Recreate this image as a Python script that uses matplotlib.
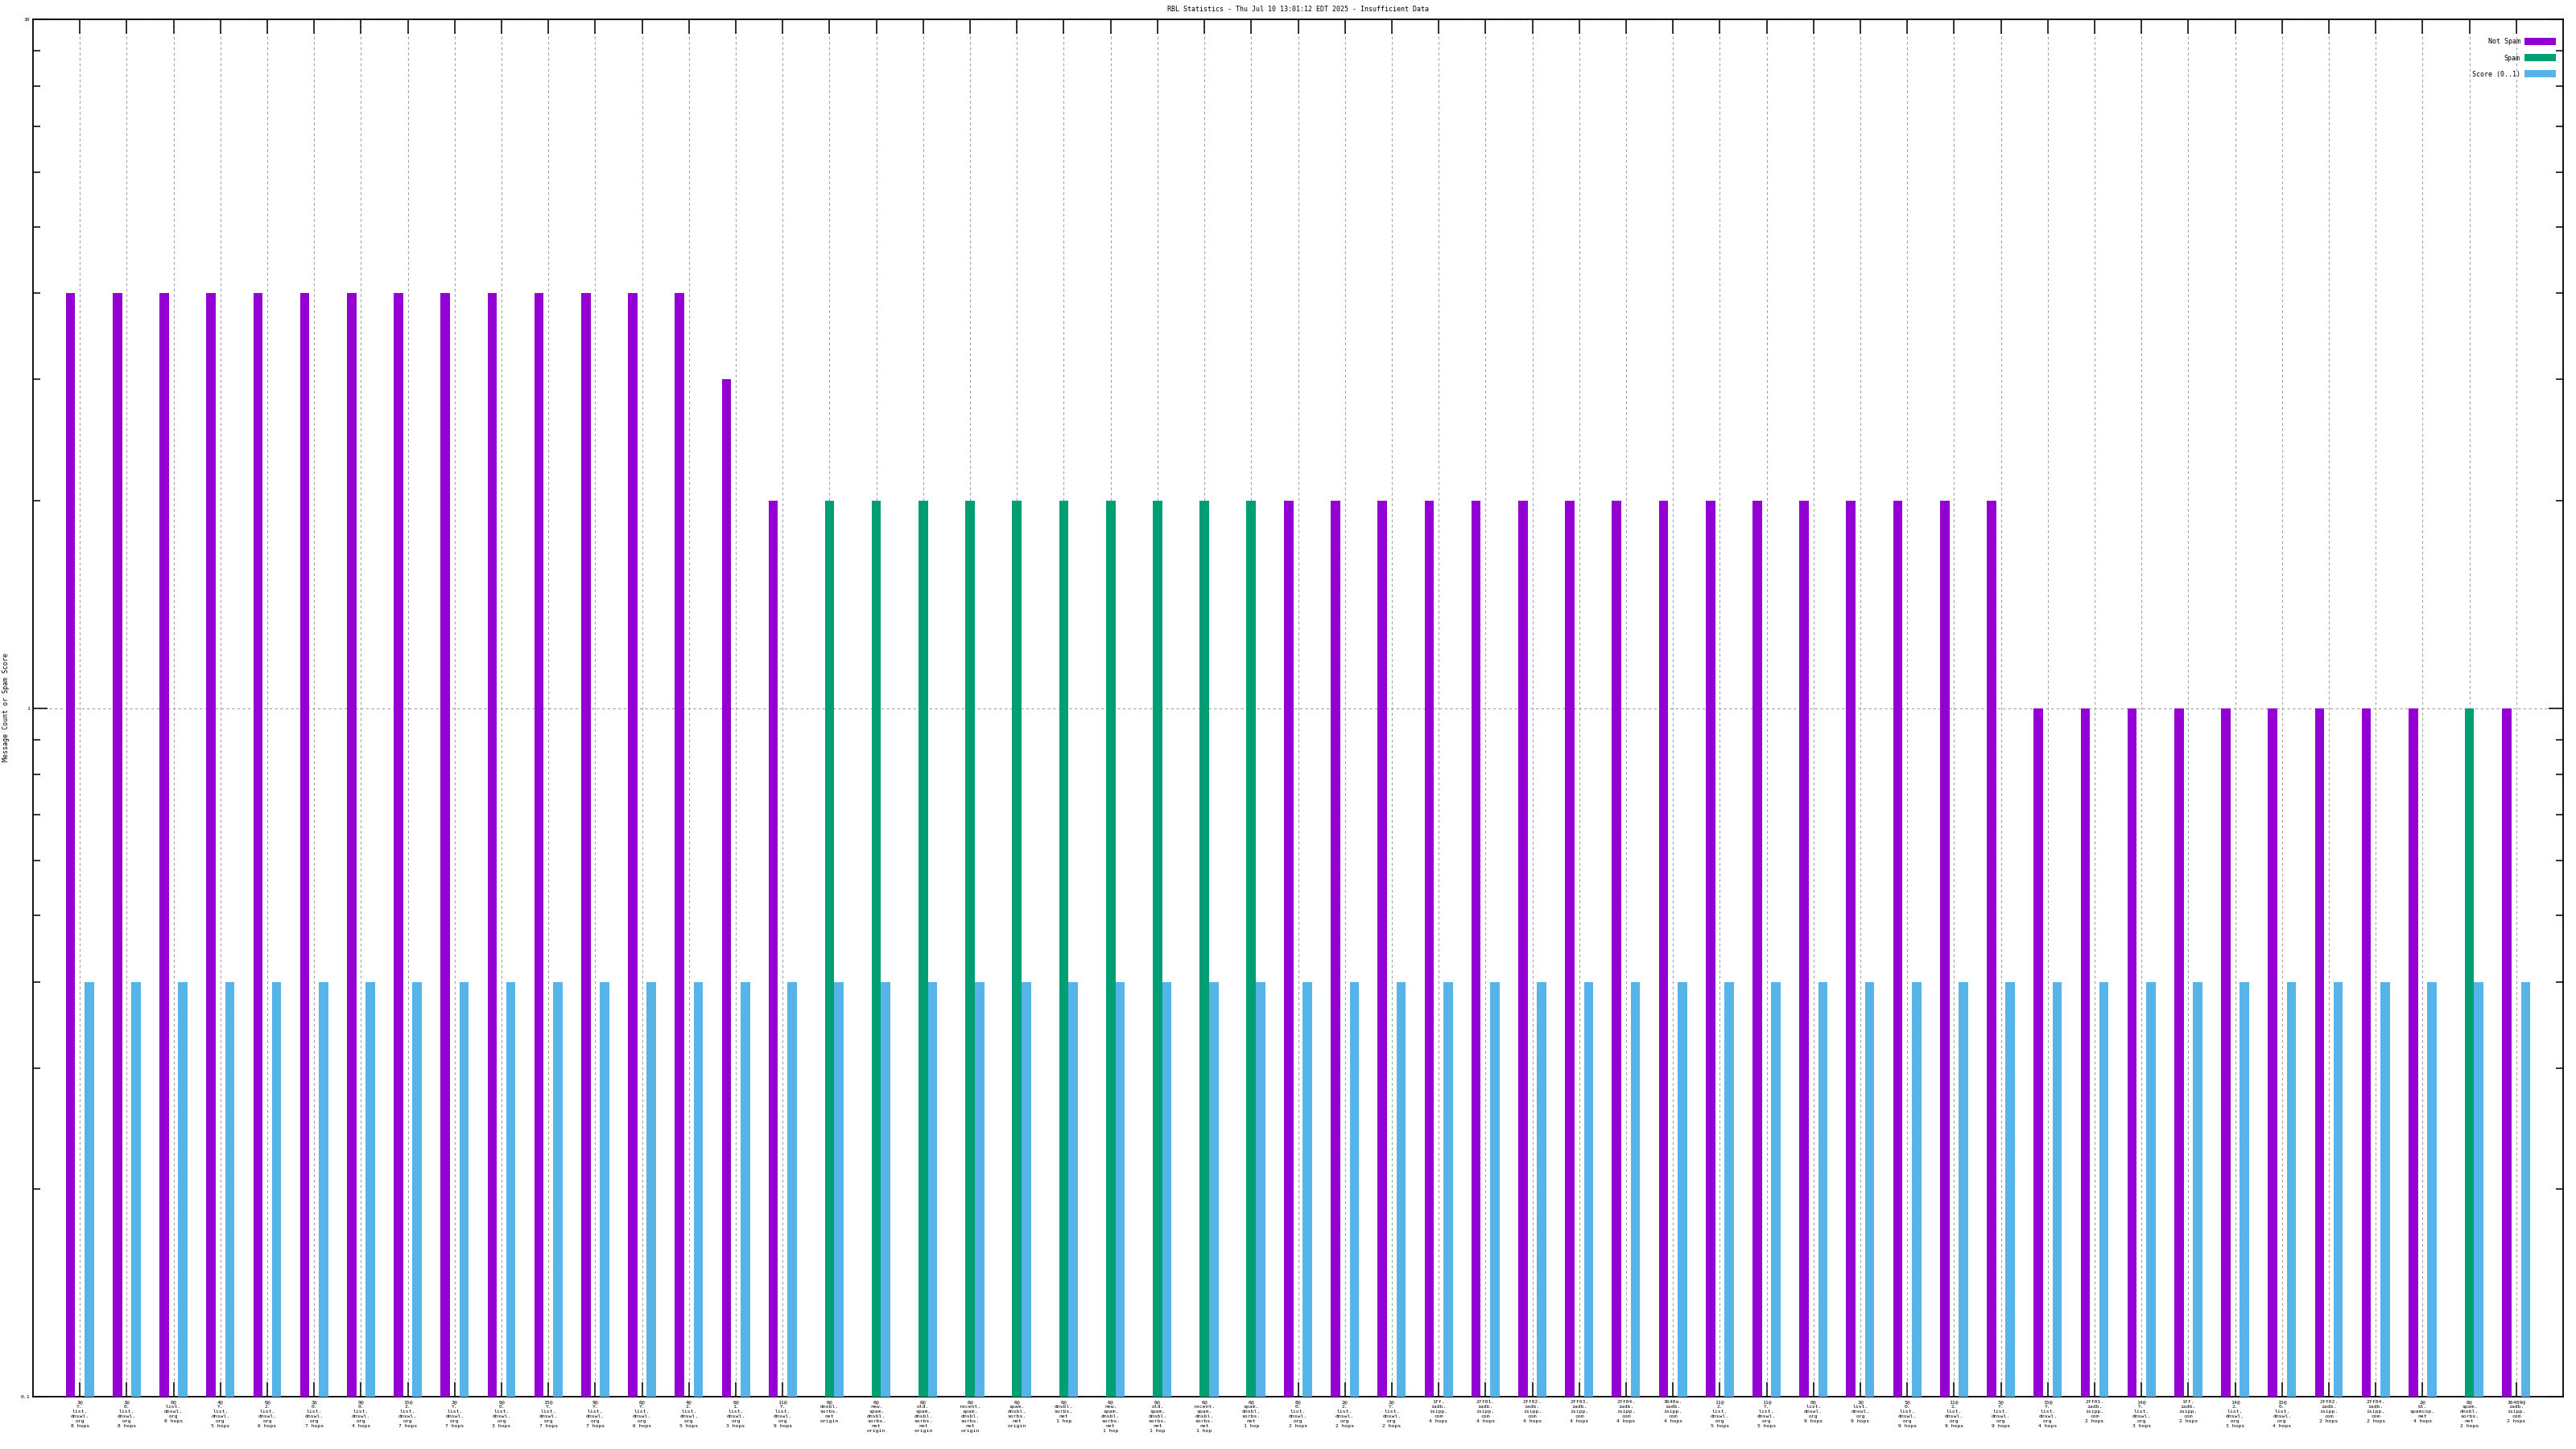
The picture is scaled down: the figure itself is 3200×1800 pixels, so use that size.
import numpy as np
import matplotlib
matplotlib.use("Agg")
import matplotlib.pyplot as plt
from matplotlib.ticker import FixedLocator, FixedFormatter, LogLocator, NullFormatter

# tick labels (one per cluster)
dnswl = "list.\ndnswl.\norg"
labels = [
    "3@\nY.\n" + dnswl + "\n8 hops",
    "3@\n0.\n" + dnswl + "\n8 hops",
    "0@\n" + dnswl + "\n8 hops",
    "4@\nY.\n" + dnswl + "\n5 hops",
    "6@\n2.\n" + dnswl + "\n6 hops",
    "3@\n0.\n" + dnswl + "\n7 hops",
    "9@\n0.\n" + dnswl + "\n4 hops",
    "15@\n2.\n" + dnswl + "\n7 hops",
    "3@\nY.\n" + dnswl + "\n7 hops",
    "6@\n0.\n" + dnswl + "\n3 hops",
    "15@\nY.\n" + dnswl + "\n7 hops",
    "9@\nY.\n" + dnswl + "\n7 hops",
    "6@\nY.\n" + dnswl + "\n6 hops",
    "4@\n2.\n" + dnswl + "\n5 hops",
    "6@\n1.\n" + dnswl + "\n3 hops",
    "11@\nY.\n" + dnswl + "\n9 hops",
    "6@\ndnsbl.\nsorbs.\nnet\norigin",
    "6@\nnew.\nspam.\ndnsbl.\nsorbs.\nnet\norigin",
    "6@\nold.\nspam.\ndnsbl.\nsorbs.\nnet\norigin",
    "6@\nrecent.\nspam.\ndnsbl.\nsorbs.\nnet\norigin",
    "6@\nspam.\ndnsbl.\nsorbs.\nnet\norigin",
    "6@\ndnsbl.\nsorbs.\nnet\n1 hop",
    "6@\nnew.\nspam.\ndnsbl.\nsorbs.\nnet\n1 hop",
    "6@\nold.\nspam.\ndnsbl.\nsorbs.\nnet\n1 hop",
    "6@\nrecent.\nspam.\ndnsbl.\nsorbs.\nnet\n1 hop",
    "6@\nspam.\ndnsbl.\nsorbs.\nnet\n1 hop",
    "8@\n0.\n" + dnswl + "\n2 hops",
    "2@\n2.\n" + dnswl + "\n2 hops",
    "2@\nY.\n" + dnswl + "\n2 hops",
    "1ff.\niadb.\nisipp.\ncom\n4 hops",
    "2ff01.\niadb.\nisipp.\ncom\n4 hops",
    "2ff02.\niadb.\nisipp.\ncom\n4 hops",
    "2ff03.\niadb.\nisipp.\ncom\n4 hops",
    "2ff04.\niadb.\nisipp.\ncom\n4 hops",
    "3640a.\niadb.\nisipp.\ncom\n4 hops",
    "11@\n2.\n" + dnswl + "\n5 hops",
    "11@\nY.\n" + dnswl + "\n5 hops",
    "0@\n" + dnswl + "\n9 hops",
    "2@\n" + dnswl + "\n9 hops",
    "5@\n0.\n" + dnswl + "\n9 hops",
    "11@\n2.\n" + dnswl + "\n9 hops",
    "5@\nY.\n" + dnswl + "\n9 hops",
    "15@\nY.\n" + dnswl + "\n4 hops",
    "2ff01.\niadb.\nisipp.\ncom\n2 hops",
    "14@\nY.\n" + dnswl + "\n3 hops",
    "1ff.\niadb.\nisipp.\ncom\n2 hops",
    "14@\n2.\n" + dnswl + "\n3 hops",
    "15@\n0.\n" + dnswl + "\n4 hops",
    "2ff02.\niadb.\nisipp.\ncom\n2 hops",
    "2ff04.\niadb.\nisipp.\ncom\n2 hops",
    "2@\nbl.\nspamcop.\nnet\n4 hops",
    "6@\nspam.\ndnsbl.\nsorbs.\nnet\n2 hops",
    "36409@\niadb.\nisipp.\ncom\n2 hops",
]

not_spam = [4, 4, 4, 4, 4, 4, 4, 4, 4, 4, 4, 4, 4, 4, 3, 2,
            0, 0, 0, 0, 0, 0, 0, 0, 0, 0,
            2, 2, 2, 2, 2, 2, 2, 2, 2, 2, 2, 2, 2, 2, 2, 2,
            1, 1, 1, 1, 1, 1, 1, 1, 1, 0, 1]
spam = [0, 0, 0, 0, 0, 0, 0, 0, 0, 0, 0, 0, 0, 0, 0, 0,
        2, 2, 2, 2, 2, 2, 2, 2, 2, 2,
        0, 0, 0, 0, 0, 0, 0, 0, 0, 0, 0, 0, 0, 0, 0, 0,
        0, 0, 0, 0, 0, 0, 0, 0, 0, 1, 0]
score = [0.4, 0.4, 0.4, 0.4, 0.4, 0.4, 0.4, 0.4, 0.4, 0.4, 0.4, 0.4, 0.4, 0.4, 0.4, 0.4,
         0.4, 0.4, 0.4, 0.4, 0.4, 0.4, 0.4, 0.4, 0.4, 0.4,
         0.4, 0.4, 0.4, 0.4, 0.4, 0.4, 0.4, 0.4, 0.4, 0.4, 0.4, 0.4, 0.4, 0.4, 0.4, 0.4,
         0.4, 0.4, 0.4, 0.4, 0.4, 0.4, 0.4, 0.4, 0.4, 0.4, 0.4]

title = "RBL Statistics - Thu Jul 10 13:01:12 EDT 2025 - Insufficient Data"

# gnuplot's png terminal uses a fixed width font
plt.rcParams['font.family'] = ['DejaVu Sans Mono']
fs = 4.6     # tick labels
fs_big = 6.0 # title, legend, axis label

fig = plt.figure(figsize=(32, 18), dpi=100)
ax = fig.add_axes([41 / 3200, 65 / 1800, (3184 - 41) / 3200, (1735 - 24) / 1800])

x = np.arange(len(labels))
w = 0.2
ns = np.array(not_spam, dtype=float)
sp = np.array(spam, dtype=float)
sc = np.array(score, dtype=float)

m = ns > 0
ax.bar(x[m] - w, ns[m], width=w, color="#9400D3", label="Not Spam", zorder=3)
m = sp > 0
ax.bar(x[m], sp[m], width=w, color="#009E73", label="Spam", zorder=3)
m = sc > 0
ax.bar(x[m] + w, sc[m], width=w, color="#56B4E9", label="Score (0..1)", zorder=3)

ax.set_yscale("log")
ax.set_ylim(0.1, 10)
ax.set_xlim(-1, len(labels))

ax.xaxis.set_major_locator(FixedLocator(x))
ax.set_xticklabels(labels, fontsize=fs, linespacing=1.25, ha="center", va="top")
ax.yaxis.set_major_locator(FixedLocator([0.1, 1, 10]))
ax.yaxis.set_major_formatter(FixedFormatter(["0.1", "1", "10"]))
ax.yaxis.set_minor_locator(LogLocator(base=10, subs=np.arange(2, 10)))
ax.yaxis.set_minor_formatter(NullFormatter())

ax.tick_params(axis="both", which="major", direction="in", length=13, width=1.1,
               top=True, right=True, labelsize=fs, pad=3, color="black")
ax.tick_params(axis="y", which="minor", direction="in", length=6.5, width=1.1,
               left=True, right=True)

ax.grid(True, axis="x", which="major", linestyle=(0, (3, 3)), color="#a0a0a0", lw=0.8, zorder=1)
ax.grid(True, axis="y", which="major", linestyle=(0, (3, 3)), color="#a0a0a0", lw=0.8, zorder=1)

for s in ax.spines.values():
    s.set_linewidth(1.3)

fig.text(1612 / 3200, 1 - 11 / 1800, title, ha="center", va="center", fontsize=fs_big)
fig.text(8 / 3200, 1 - 879 / 1800, "Message Count or Spam Score", rotation=90,
         ha="center", va="center", fontsize=fs_big)

leg = ax.legend(loc="upper right", bbox_to_anchor=(1 - 9 / 3143, 1 - 23 / 1711),
                frameon=False, fontsize=fs_big, markerfirst=False,
                handlelength=4.7, handleheight=1.3, labelspacing=1.3,
                handletextpad=0.6, borderpad=0, borderaxespad=0)

fig.savefig("out.png", dpi=100)
